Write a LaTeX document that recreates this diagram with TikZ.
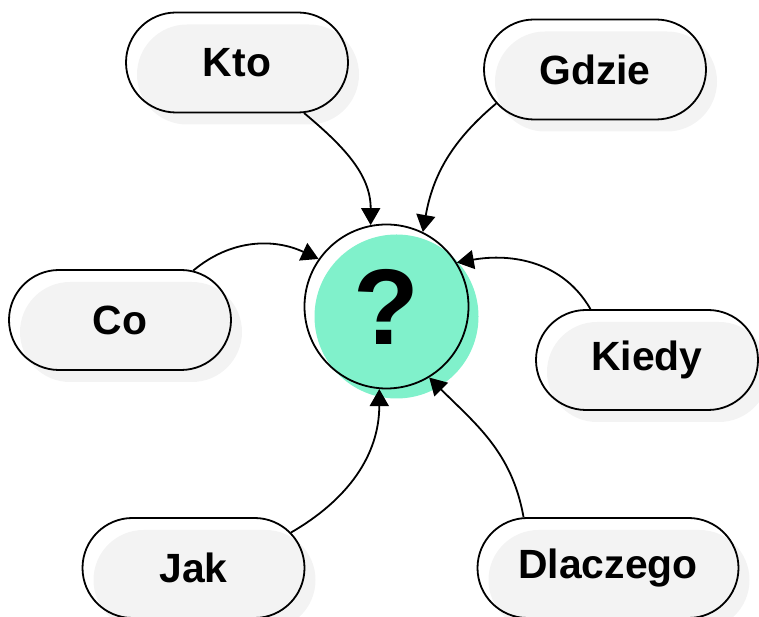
\documentclass[tikz,border=0pt]{standalone}
\usepackage{fontspec}
\setmainfont{Liberation Sans}
\usetikzlibrary{arrows.meta}
\usetikzlibrary{shapes.misc}
\usetikzlibrary{shadows}
\definecolor{mint}{HTML}{80F1CB}
\definecolor{pillgray}{HTML}{F3F3F3}
\tikzset{pill/.style = {rounded rectangle, draw, line width=1.8bp, inner sep=0pt,
                        minimum width=222bp, minimum height=100bp,
                        font=\fontsize{41}{44}\selectfont\bfseries,
                        drop shadow={shadow xshift=11bp, shadow yshift=-12bp,
                                     fill=pillgray, opacity=1}},
         link/.style = {line width=1.8bp, -{Triangle[length=17bp,width=19bp]}}}

\begin{document}
\begin{tikzpicture}[x=1bp, y=1bp]
      \useasboundingbox (0, 0) rectangle (759, 617);

      \node (q) at (386.5, 310.5) [circle, draw, line width=1.8bp, inner sep=0pt,
            minimum size=164bp, font=\fontsize{108}{110}\selectfont\bfseries,
            drop shadow={shadow xshift=10bp, shadow yshift=-10bp,
                         fill=mint, opacity=1}] {?};

      \node (kto)      at (237, 554.5)   [pill] {Kto};
      \node (gdzie)    at (595, 547.5)   [pill] {Gdzie};
      \node (co)       at (120, 297)     [pill] {Co};
      \node (kiedy)    at (647, 257)     [pill] {Kiedy};
      \node (jak)      at (193.5, 49)    [pill] {Jak};
      \node (dlaczego) at (608, 49)      [pill, minimum width=261bp] {Dlaczego};

      \draw [link] (kto.-37)       to [out=-40, in=90]  (q.101);
      \draw [link] (gdzie.199)     to [out=220, in=80]  (q.64);
      \draw [link] (co.34)         to [out=40,  in=155] (q.145);
      \draw [link] (kiedy.138)     to [out=120, in=10]  (q.32);
      \draw [link] (jak.20)        to [out=30,  in=-90] (q.-95);
      \draw [link] (dlaczego.149)  to [out=100, in=-45] (q.-59);
    \end{tikzpicture}
\end{document}
